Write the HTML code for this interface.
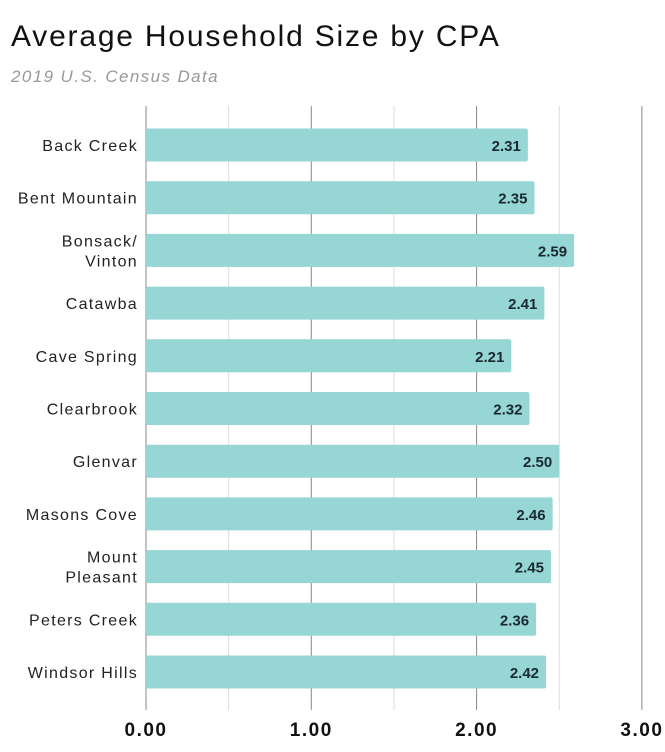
<!DOCTYPE html>
<html><head><meta charset="utf-8">
<style>
body{margin:0;background:#fff;width:665px;height:747px;overflow:hidden;font-family:"Liberation Sans",sans-serif}
</style></head>
<body>
<svg width="665" height="747" viewBox="0 0 665 747">
<text x="11" y="46" font-size="30" letter-spacing="1.8" fill="#111">Average Household Size by CPA</text>
<text x="11" y="82" font-size="17" letter-spacing="1.4" font-style="italic" fill="#999">2019 U.S. Census Data</text>
<g id="grid"></g><g id="bars"></g><g id="labels"></g>
</svg>
<script>
const categories=[["Back Creek"],["Bent Mountain"],["Bonsack/","Vinton"],["Catawba"],["Cave Spring"],["Clearbrook"],["Glenvar"],["Masons Cove"],["Mount","Pleasant"],["Peters Creek"],["Windsor Hills"]];
const values=[2.31,2.35,2.59,2.41,2.21,2.32,2.50,2.46,2.45,2.36,2.42];
const ticks=[0,1,2,3];
const tickLabels=["0.00","1.00","2.00","3.00"];
const NS="http://www.w3.org/2000/svg";
const x0=146,pxPer=165.3,yTop=145,step=52.7,bh=33;
const xs=v=>x0+v*pxPer;
const ys=i=>yTop+i*step;
function mk(t,a,p){const e=document.createElementNS(NS,t);for(const k in a)e.setAttribute(k,a[k]);p.appendChild(e);return e;}
const g=document.getElementById('grid'),b=document.getElementById('bars'),l=document.getElementById('labels');
for(let v=0;v<=3;v+=0.5){
 const major=Number.isInteger(v);
 const ln=mk('line',{x1:xs(v),x2:xs(v),y1:106,y2:710,stroke:major?'#888':'#ddd','stroke-width':1},g);
 
 
}
ticks.forEach((t,i)=>{
 const tx=mk('text',{x:xs(t),y:736,'text-anchor':'middle','font-size':19,'font-weight':'bold','letter-spacing':1.5,fill:'#111'},l);
 tx.textContent=tickLabels[i];
 
 
});
values.forEach((v,i)=>{
 const cy=ys(i);
 const r=mk('rect',{x:x0,y:cy-bh/2,width:xs(v)-x0,height:bh,fill:'#96d6d4',rx:2},b);
 
 
 const vt=mk('text',{x:xs(v)-7,y:cy+6,'text-anchor':'end','font-size':15,'font-weight':'bold',fill:'#1a2a30'},l);
 vt.textContent=v.toFixed(2);
 
 
 const lines=categories[i];
 lines.forEach((s,j)=>{
  const yy=cy+6+(j-(lines.length-1)/2)*20;
  const ct=mk('text',{x:138,y:yy,'text-anchor':'end','font-size':16,'letter-spacing':1.3,fill:'#222'},l);
  ct.textContent=s;
  
  
 });
});
</script>
</body></html>
